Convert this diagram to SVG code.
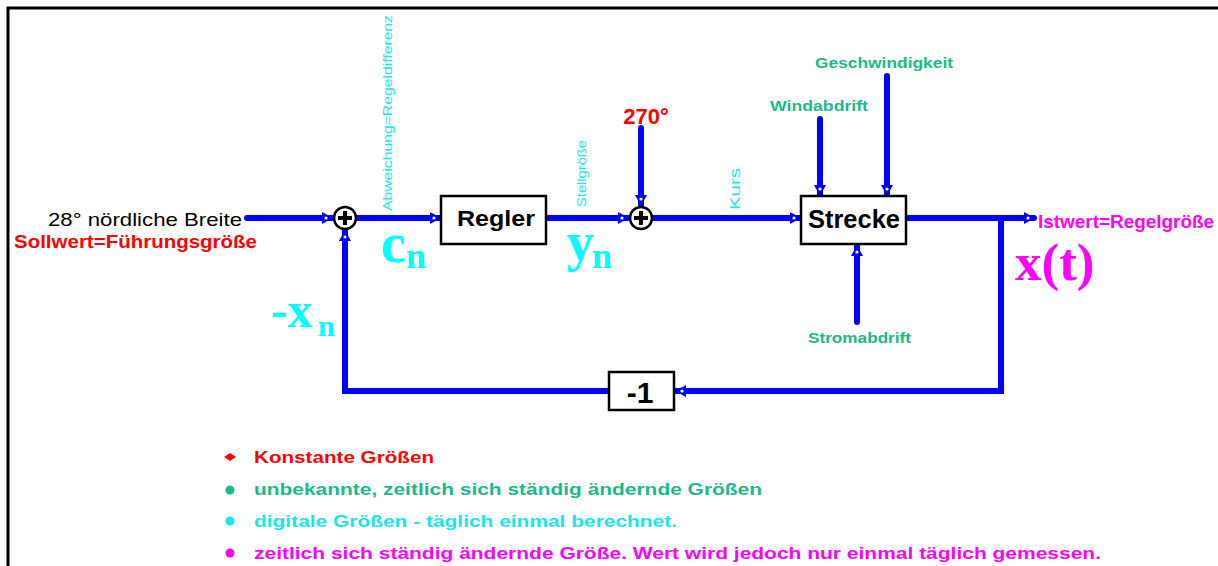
<svg xmlns="http://www.w3.org/2000/svg" width="1218" height="566" viewBox="0 0 1218 566">
  <style>
    .sans { font-family: "Liberation Sans", Arial, sans-serif; }
    .serif { font-family: "Liberation Serif", "Times New Roman", serif; font-weight: bold; }
    .wire { fill: none; stroke: #0000ff; stroke-width: 6; stroke-linecap: round; stroke-linejoin: miter; }
    .box { fill: #ffffff; stroke: #000000; stroke-width: 2.5; }
    .sum { fill: #ffffff; stroke: #000000; stroke-width: 2.5; }
    .plus { stroke: #000000; stroke-width: 4; }
    .blk { font-weight: bold; fill: #000000; text-anchor: middle; }
    .red { fill: #ff0000; }
    .green { fill: #1cb890; }
    .cyan { fill: #1ae6e6; }
    .mag { fill: #ff00ff; }
    .var { fill: #00ffff; }
  </style>
  <defs>
    <marker id="arrow" markerUnits="userSpaceOnUse" markerWidth="14" markerHeight="14" refX="11" refY="7" orient="auto">
      <path d="M1,1 L12,7 L1,13 Z" fill="#0000ff"/>
      <circle cx="5" cy="7" r="1.6" fill="#ffffff"/>
    </marker>
  </defs>

  <!-- frame -->
  <path d="M8,566 L8,8 L1218,8" fill="none" stroke="#000000" stroke-width="3"/>

  <!-- connectors -->
  <g id="connectors">
    <path class="wire" d="M247,218 L332,218" marker-end="url(#arrow)"/>
    <path class="wire" d="M357,218 L440,218" marker-end="url(#arrow)"/>
    <path class="wire" d="M547,218 L628,218" marker-end="url(#arrow)"/>
    <path class="wire" d="M641,128 L641,205" marker-end="url(#arrow)"/>
    <path class="wire" d="M653,218 L800,218" marker-end="url(#arrow)"/>
    <path class="wire" d="M820,119 L820,195" marker-end="url(#arrow)"/>
    <path class="wire" d="M887,76 L887,195" marker-end="url(#arrow)"/>
    <path class="wire" d="M857,322 L857,246" marker-end="url(#arrow)"/>
    <path class="wire" d="M907,218 L1034,218" marker-end="url(#arrow)"/>
    <path class="wire" d="M1001,218 L1001,391 L676,391" marker-end="url(#arrow)"/>
    <path class="wire" d="M608,391 L345,391 L345,231" marker-end="url(#arrow)"/>
  </g>

  <!-- input -->
  <g id="input">
    <text class="sans" x="242" y="226" font-size="19" text-anchor="end" fill="#000000" textLength="194" lengthAdjust="spacingAndGlyphs">28° nördliche Breite</text>
    <text class="sans red" x="14" y="248" font-size="19" font-weight="bold" textLength="243" lengthAdjust="spacingAndGlyphs">Sollwert=Führungsgröße</text>
  </g>

  <!-- first summing point -->
  <g id="sum1">
    <circle class="sum" cx="345" cy="218" r="11"/>
    <path class="plus" d="M338,218 H352 M345,211 V225"/>
  </g>

  <g id="error-label">
    <text class="sans cyan" transform="translate(392,211) rotate(-90)" font-size="12" textLength="196" lengthAdjust="spacingAndGlyphs">Abweichung=Regeldifferenz</text>
    <text class="serif var" x="381" y="262" font-size="56">c</text>
    <text class="serif var" x="406" y="268" font-size="36">n</text>
  </g>

  <!-- controller -->
  <g id="regler">
    <rect class="box" x="441" y="196" width="105" height="48"/>
    <text class="sans blk" x="496" y="226" font-size="22" textLength="78" lengthAdjust="spacingAndGlyphs">Regler</text>
  </g>

  <g id="control-label">
    <text class="sans cyan" transform="translate(586,207) rotate(-90)" font-size="12" textLength="67" lengthAdjust="spacingAndGlyphs">Stellgröße</text>
    <text class="serif var" x="567" y="260" font-size="54">y</text>
    <text class="serif var" x="592" y="268" font-size="36">n</text>
  </g>

  <!-- second summing point -->
  <g id="sum2">
    <circle class="sum" cx="641" cy="218" r="11"/>
    <path class="plus" d="M634,218 H648 M641,211 V225"/>
  </g>

  <g id="offset">
    <text class="sans red" x="646" y="124" font-size="22" font-weight="bold" text-anchor="middle">270°</text>
  </g>

  <g id="course-label">
    <text class="sans cyan" transform="translate(740,210) rotate(-90)" font-size="14" textLength="42" lengthAdjust="spacingAndGlyphs">Kurs</text>
  </g>

  <!-- plant -->
  <g id="strecke">
    <rect class="box" x="801" y="196" width="105" height="48"/>
    <text class="sans blk" x="854" y="228" font-size="25" textLength="92" lengthAdjust="spacingAndGlyphs">Strecke</text>
  </g>

  <g id="disturbances">
    <text class="sans green" x="770" y="111" font-size="14" font-weight="bold" textLength="98" lengthAdjust="spacingAndGlyphs">Windabdrift</text>
    <text class="sans green" x="815" y="68" font-size="14" font-weight="bold" textLength="138" lengthAdjust="spacingAndGlyphs">Geschwindigkeit</text>
    <text class="sans green" x="808" y="343" font-size="14" font-weight="bold" textLength="103" lengthAdjust="spacingAndGlyphs">Stromabdrift</text>
  </g>

  <!-- output -->
  <g id="output">
    <text class="sans mag" x="1038" y="228" font-size="19" font-weight="bold" textLength="176" lengthAdjust="spacingAndGlyphs">Istwert=Regelgröße</text>
    <text class="serif mag" x="1015" y="280" font-size="53">x(t)</text>
  </g>

  <!-- feedback gain -->
  <g id="gain">
    <rect class="box" x="609" y="372" width="65" height="38"/>
    <text class="sans blk" x="640" y="403" font-size="30">-1</text>
  </g>

  <g id="feedback-label">
    <text class="serif var" x="271" y="327" font-size="50">-x</text>
    <text class="serif var" x="318" y="336" font-size="30">n</text>
  </g>

  <!-- legend -->
  <g id="legend" class="sans" font-size="17" font-weight="bold">
    <path d="M224,457 L230,453 L236,457 L230,461 Z" fill="#ff0000"/>
    <text class="red" x="254" y="463" textLength="180" lengthAdjust="spacingAndGlyphs">Konstante Größen</text>
    <circle cx="230" cy="490" r="4.5" fill="#1cb890"/>
    <text class="green" x="254" y="495" textLength="508" lengthAdjust="spacingAndGlyphs">unbekannte, zeitlich sich ständig ändernde Größen</text>
    <circle cx="230" cy="521" r="4.5" fill="#1ae6e6"/>
    <text class="cyan" x="254" y="527" textLength="423" lengthAdjust="spacingAndGlyphs">digitale Größen - täglich einmal berechnet.</text>
    <circle cx="230" cy="553" r="4.5" fill="#ff00ff"/>
    <text class="mag" x="254" y="559" textLength="847" lengthAdjust="spacingAndGlyphs">zeitlich sich ständig ändernde Größe. Wert wird jedoch nur einmal täglich gemessen.</text>
  </g>
</svg>
